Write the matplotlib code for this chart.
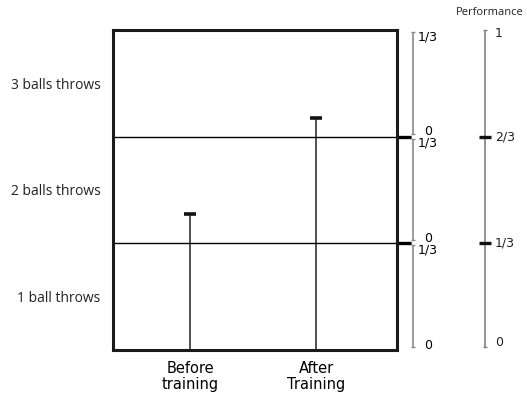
import matplotlib.pyplot as plt
from matplotlib.transforms import blended_transform_factory

# ---- data ----
categories = ["Before\ntraining", "After\nTraining"]
performance = [0.425, 0.725]
levels = ["1 ball throws", "2 balls throws", "3 balls throws"]
band_edges = [0, 1/3, 2/3, 1]
band_tick_labels = ["0", "1/3"]
perf_ticks = [0, 1/3, 2/3, 1]
perf_tick_labels = ["0", "1/3", "2/3", "1"]
perf_title = "Performance"

# ---- layout ----
W, H = 527, 397
fig = plt.figure(figsize=(W / 100, H / 100), dpi=100)
ax = fig.add_axes([113 / W, 47 / H, 284 / W, 320 / H])
ax.set_xlim(0, 1)
ax.set_ylim(0, 1)
xpos = [0.271, 0.715]
capw = 0.022

# bars as lines with caps
ax.vlines(xpos, 0, performance, color="#222222", lw=1.1)
ax.hlines(performance, [x - capw for x in xpos], [x + capw for x in xpos],
          color="#111111", lw=2.6)

for s in ax.spines.values():
    s.set_linewidth(2.2)
    s.set_color("#1a1a1a")

ax.set_xticks(xpos)
ax.set_xticklabels(categories, fontsize=10.5, family="DejaVu Sans",
                   linespacing=1.1)
ax.tick_params(axis="x", length=0, pad=8)
ax.set_yticks([(band_edges[i] + band_edges[i + 1]) / 2 for i in range(3)])
ax.set_yticklabels(levels, fontsize=10, family="Open Sans", color="#222222")
ax.tick_params(axis="y", length=0, pad=9)

tr = blended_transform_factory(ax.transAxes, ax.transData)

# band separators
inner = band_edges[1:-1]
ax.hlines(inner, 0, 1.049, transform=tr, color="black", lw=1.0, clip_on=False)
ax.hlines(inner, 1.0, 1.049, transform=tr, color="black", lw=2.4, clip_on=False)

# per-band sub-scales
sx = 1.056
tickw = 0.008
for i in range(3):
    lo = band_edges[i] + 0.009
    hi = band_edges[i + 1] - 0.006
    ax.vlines(sx, lo, hi, transform=tr, color="#8a8a8a", lw=1.2, clip_on=False)
    ax.hlines([lo, hi], sx - tickw, sx + tickw, transform=tr, color="#8a8a8a",
              lw=1.0, clip_on=False)
    ax.text(1.074, hi - 0.015, band_tick_labels[1], transform=tr, ha="left",
            va="center", fontsize=9, family="DejaVu Sans", clip_on=False)
    ax.text(1.097, lo + 0.006, band_tick_labels[0], transform=tr, ha="left",
            va="center", fontsize=9, family="DejaVu Sans", clip_on=False)

# performance scale
px = 1.31
ax.vlines(px, perf_ticks[0] + 0.009, perf_ticks[-1], transform=tr,
          color="#808080", lw=1.2, clip_on=False)
for v, lab in zip(perf_ticks, perf_tick_labels):
    if v in (perf_ticks[0], perf_ticks[-1]):
        yv = v + 0.009 if v == perf_ticks[0] else v
        ax.hlines(yv, px - tickw, px + tickw, transform=tr, color="#808080",
                  lw=1.0, clip_on=False)
    else:
        ax.hlines(v, px - 0.021, px + 0.021, transform=tr, color="#111111",
                  lw=2.4, clip_on=False)
    yl = min(max(v, 0.022), 0.99)
    ax.text(1.345, yl, lab, transform=tr, ha="left", va="center",
            fontsize=9, family="DejaVu Sans", color="#222222", clip_on=False)

ax.text(1.328, 1.056, perf_title, transform=tr, ha="center", va="center",
        fontsize=8, family="Open Sans", color="#222222", clip_on=False)

fig.savefig("out.png", dpi=100)
